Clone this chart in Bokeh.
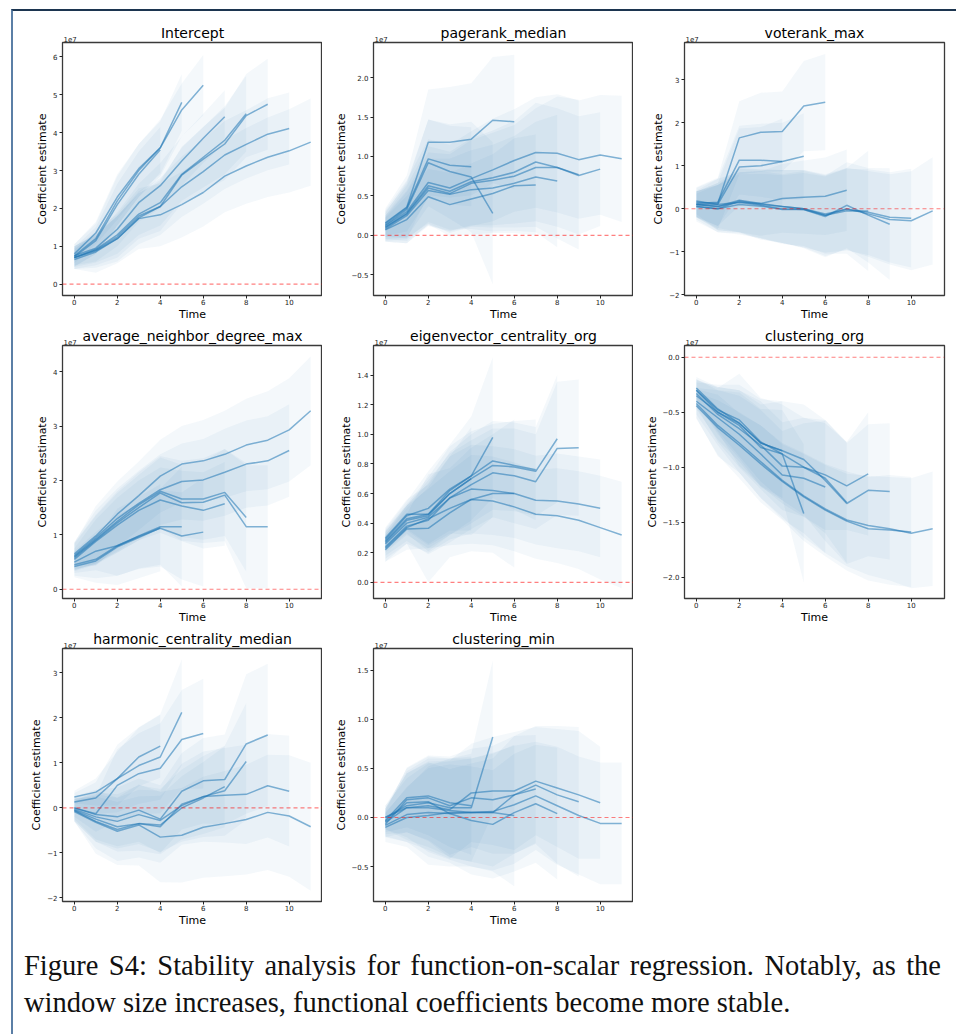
import numpy as np
from bokeh.plotting import figure
from bokeh.layouts import column, row
from bokeh.models import Span, Title, FixedTicker, Div, Range1d
from bokeh.embed import file_html
from bokeh.resources import INLINE

# values are in units of 1e7 (as shown by the axis offset text)
TITLES = ["Intercept", "pagerank_median", "voterank_max",
          "average_neighbor_degree_max", "eigenvector_centrality_org", "clustering_org",
          "harmonic_centrality_median", "clustering_min"]

X_TICKS = [0, 2, 4, 6, 8, 10]

# ---- Intercept
INTERCEPT_LINES = [
    [0.72, 1.15, 2.1, 2.9, 3.55],
    [0.8, 1.35, 2.3, 3.05, 3.6, 4.8],
    [0.75, 1.2, 2.2, 3.0, 3.6, 4.6, 5.25],
    [0.75, 0.95, 1.45, 2.15, 2.6, 3.25, 3.85, 4.42],
    [0.7, 0.92, 1.3, 1.85, 2.15, 2.9, 3.35, 3.8, 4.5],
    [0.7, 0.9, 1.25, 1.8, 2.05, 2.88, 3.3, 3.7, 4.45, 4.75],
    [0.7, 0.88, 1.2, 1.75, 2.05, 2.57, 2.97, 3.41, 3.69, 3.96, 4.11],
    [0.65, 0.85, 1.2, 1.73, 1.83, 2.1, 2.42, 2.85, 3.12, 3.35, 3.52, 3.75],
]
INTERCEPT_HALF = [
    [0.25, 0.35, 0.55, 0.6, 0.6],
    [0.25, 0.3, 0.6, 0.65, 0.7, 0.75],
    [0.3, 0.4, 0.65, 0.7, 0.75, 0.7, 0.8],
    [0.25, 0.35, 0.45, 0.5, 0.6, 0.65, 0.65, 0.7],
    [0.25, 0.35, 0.5, 0.55, 0.6, 0.7, 0.8, 0.9, 1.0],
    [0.3, 0.4, 0.55, 0.6, 0.65, 0.75, 0.85, 0.95, 1.1, 1.2],
    [0.3, 0.45, 0.6, 0.7, 0.75, 0.8, 0.85, 0.9, 0.9, 0.95, 0.95],
    [0.25, 0.55, 0.65, 0.8, 0.83, 0.87, 0.9, 0.95, 1.0, 1.05, 1.1, 1.15],
]
INTERCEPT_YTICKS = [0, 1, 2, 3, 4, 5, 6]
INTERCEPT_YLABELS = ["0", "1", "2", "3", "4", "5", "6"]
INTERCEPT_YRANGE = [-0.30, 6.38]

# ---- pagerank_median
PAGERANK_LINES = [
    [0.15, 0.35, 0.97, 0.89, 0.87],
    [0.13, 0.33, 0.92, 0.81, 0.74, 0.28],
    [0.16, 0.36, 1.18, 1.18, 1.22, 1.46, 1.44],
    [0.07, 0.2, 0.49, 0.39, 0.46, 0.53, 0.63, 0.64],
    [0.08, 0.25, 0.57, 0.52, 0.58, 0.6, 0.66, 0.74, 0.69],
    [0.1, 0.27, 0.6, 0.53, 0.66, 0.7, 0.75, 0.86, 0.86, 0.77],
    [0.1, 0.28, 0.63, 0.56, 0.68, 0.73, 0.8, 0.93, 0.86, 0.76, 0.84],
    [0.12, 0.3, 0.67, 0.6, 0.72, 0.83, 0.95, 1.05, 1.04, 0.96, 1.02, 0.97],
]
PAGERANK_HALF = [
    [0.15, 0.3, 0.5, 0.5, 0.5],
    [0.15, 0.35, 0.55, 0.6, 0.7, 0.9],
    [0.18, 0.4, 0.67, 0.7, 0.71, 0.8, 0.85],
    [0.15, 0.3, 0.35, 0.4, 0.45, 0.5, 0.6, 0.64],
    [0.15, 0.3, 0.4, 0.45, 0.5, 0.55, 0.6, 0.7, 0.84],
    [0.15, 0.3, 0.45, 0.5, 0.55, 0.6, 0.65, 0.75, 0.9, 0.95],
    [0.15, 0.35, 0.5, 0.5, 0.55, 0.6, 0.65, 0.75, 0.75, 0.75, 0.72],
    [0.2, 0.4, 0.55, 0.55, 0.6, 0.65, 0.65, 0.7, 0.75, 0.75, 0.76, 0.8],
]
PAGERANK_YTICKS = [-0.5, 0.0, 0.5, 1.0, 1.5, 2.0]
PAGERANK_YLABELS = ["\u22120.5", "0.0", "0.5", "1.0", "1.5", "2.0"]
PAGERANK_YRANGE = [-0.762, 2.445]

# ---- voterank_max
VOTERANK_LINES = [
    [0.1, 0.1, 0.97, 1.0, 1.1],
    [0.12, 0.15, 1.13, 1.13, 1.1, 1.22],
    [0.15, 0.12, 1.65, 1.78, 1.8, 2.39, 2.48],
    [0.1, 0.05, 0.15, 0.12, 0.24, 0.27, 0.29, 0.43],
    [0.05, 0.0, 0.1, 0.06, -0.02, -0.02, -0.15, -0.05, -0.05],
    [0.18, 0.1, 0.15, 0.08, 0.0, -0.02, -0.18, 0.08, -0.15, -0.36],
    [0.1, 0.05, 0.2, 0.12, 0.05, 0.0, -0.12, -0.02, -0.08, -0.2, -0.22],
    [0.05, 0.0, 0.18, 0.1, 0.05, 0.0, -0.15, 0.0, -0.12, -0.25, -0.28, -0.05],
]
VOTERANK_HALF = [
    [0.3, 0.5, 0.9, 0.9, 1.0],
    [0.3, 0.55, 0.8, 0.85, 0.9, 1.0],
    [0.35, 0.6, 0.85, 0.92, 0.93, 1.05, 1.12],
    [0.3, 0.5, 0.7, 0.75, 0.8, 0.85, 0.9, 0.95],
    [0.3, 0.55, 0.7, 0.75, 0.8, 0.85, 0.9, 1.0, 1.4],
    [0.3, 0.6, 0.7, 0.8, 0.8, 0.9, 0.95, 1.0, 1.1, 1.3],
    [0.3, 0.55, 0.75, 0.8, 0.85, 0.9, 0.9, 0.95, 1.0, 1.05, 1.15],
    [0.35, 0.55, 0.75, 0.8, 0.85, 0.9, 0.95, 0.95, 1.0, 1.05, 1.15, 1.25],
]
VOTERANK_YTICKS = [-2, -1, 0, 1, 2, 3]
VOTERANK_YLABELS = ["\u22122", "\u22121", "0", "1", "2", "3"]
VOTERANK_YRANGE = [-2.02, 3.87]

# ---- average_neighbor_degree_max
AVGNB_LINES = [
    [0.42, 0.52, 0.78, 0.95, 1.13],
    [0.5, 0.7, 0.8, 0.98, 1.15, 1.15],
    [0.45, 0.55, 0.8, 0.97, 1.12, 0.98, 1.05],
    [0.55, 0.88, 1.18, 1.45, 1.64, 1.53, 1.45, 1.57],
    [0.6, 0.92, 1.25, 1.55, 1.8, 1.66, 1.66, 1.78, 1.32],
    [0.58, 0.9, 1.22, 1.5, 1.77, 1.59, 1.6, 1.73, 1.15, 1.15],
    [0.62, 0.95, 1.3, 1.58, 1.83, 1.98, 2.01, 2.15, 2.3, 2.36, 2.55],
    [0.65, 0.98, 1.38, 1.72, 2.08, 2.3, 2.36, 2.48, 2.65, 2.74, 2.93, 3.28],
]
AVGNB_HALF = [
    [0.2, 0.4, 0.7, 0.75, 0.8],
    [0.2, 0.35, 0.55, 0.6, 0.7, 1.1],
    [0.2, 0.35, 0.55, 0.6, 0.7, 0.8, 1.0],
    [0.2, 0.4, 0.5, 0.55, 0.6, 0.65, 0.7, 0.77],
    [0.25, 0.45, 0.55, 0.6, 0.65, 0.7, 0.75, 0.8, 1.0],
    [0.25, 0.45, 0.55, 0.6, 0.65, 0.7, 0.75, 0.85, 1.13, 1.13],
    [0.25, 0.5, 0.55, 0.6, 0.65, 0.7, 0.75, 0.8, 0.8, 0.82, 0.85],
    [0.2, 0.55, 0.6, 0.63, 0.67, 0.7, 0.75, 0.8, 0.85, 0.9, 0.95, 1.0],
]
AVGNB_YTICKS = [0, 1, 2, 3, 4]
AVGNB_YLABELS = ["0", "1", "2", "3", "4"]
AVGNB_YRANGE = [-0.17, 4.48]

# ---- eigenvector_centrality_org
EIGEN_LINES = [
    [0.3, 0.46, 0.46, 0.6, 0.7],
    [0.29, 0.45, 0.5, 0.63, 0.72, 0.98],
    [0.22, 0.36, 0.365, 0.47, 0.56, 0.6, 0.6],
    [0.28, 0.43, 0.46, 0.62, 0.72, 0.82, 0.79, 0.76],
    [0.27, 0.42, 0.45, 0.6, 0.7, 0.79, 0.78, 0.75, 0.97],
    [0.26, 0.4, 0.44, 0.57, 0.66, 0.74, 0.72, 0.68, 0.905, 0.91],
    [0.24, 0.38, 0.42, 0.57, 0.63, 0.62, 0.6, 0.555, 0.55, 0.53, 0.5],
    [0.23, 0.37, 0.43, 0.5, 0.56, 0.55, 0.51, 0.46, 0.45, 0.42, 0.37, 0.32],
]
EIGEN_HALF = [
    [0.07, 0.1, 0.2, 0.25, 0.35],
    [0.07, 0.1, 0.25, 0.3, 0.4, 0.54],
    [0.08, 0.1, 0.365, 0.3, 0.35, 0.4, 0.5],
    [0.07, 0.1, 0.25, 0.3, 0.3, 0.25, 0.3, 0.34],
    [0.07, 0.1, 0.22, 0.28, 0.3, 0.3, 0.3, 0.3, 0.43],
    [0.08, 0.12, 0.25, 0.3, 0.3, 0.3, 0.32, 0.32, 0.45, 0.46],
    [0.08, 0.12, 0.22, 0.28, 0.3, 0.3, 0.3, 0.3, 0.32, 0.32, 0.33],
    [0.09, 0.15, 0.2, 0.25, 0.3, 0.3, 0.3, 0.3, 0.32, 0.33, 0.35, 0.36],
]
EIGEN_YTICKS = [0.0, 0.2, 0.4, 0.6, 0.8, 1.0, 1.2, 1.4]
EIGEN_YLABELS = ["0.0", "0.2", "0.4", "0.6", "0.8", "1.0", "1.2", "1.4"]
EIGEN_YRANGE = [-0.109, 1.6]

# ---- clustering_org
CLORG_LINES = [
    [-0.28, -0.47, -0.6, -0.78, -0.85],
    [-0.3, -0.5, -0.62, -0.82, -0.88, -1.42],
    [-0.4, -0.55, -0.7, -0.88, -1.07, -1.1, -1.18],
    [-0.33, -0.52, -0.65, -0.8, -0.99, -1.0, -1.1, -1.32],
    [-0.3, -0.48, -0.57, -0.77, -0.88, -1.0, -1.07, -1.17, -1.06],
    [-0.35, -0.5, -0.6, -0.78, -0.85, -0.93, -1.12, -1.33, -1.21, -1.22],
    [-0.44, -0.64, -0.8, -0.97, -1.13, -1.27, -1.39, -1.49, -1.56, -1.57, -1.59],
    [-0.42, -0.62, -0.78, -0.95, -1.12, -1.26, -1.38, -1.48, -1.53, -1.56, -1.6, -1.56],
]
CLORG_HALF = [
    [0.1, 0.2, 0.3, 0.35, 0.45],
    [0.1, 0.2, 0.3, 0.35, 0.4, 0.63],
    [0.12, 0.25, 0.35, 0.4, 0.4, 0.5, 0.6],
    [0.12, 0.25, 0.35, 0.4, 0.4, 0.45, 0.5, 0.55],
    [0.1, 0.2, 0.42, 0.4, 0.45, 0.45, 0.5, 0.4, 0.56],
    [0.12, 0.25, 0.35, 0.4, 0.45, 0.5, 0.55, 0.55, 0.6, 0.62],
    [0.12, 0.25, 0.3, 0.35, 0.35, 0.4, 0.42, 0.45, 0.47, 0.5, 0.5],
    [0.13, 0.28, 0.27, 0.33, 0.33, 0.38, 0.4, 0.42, 0.45, 0.47, 0.5, 0.52],
]
CLORG_YTICKS = [-2.0, -1.5, -1.0, -0.5, 0.0]
CLORG_YLABELS = ["\u22122.0", "\u22121.5", "\u22121.0", "\u22120.5", "0.0"]
CLORG_YRANGE = [-2.194, 0.107]

# ---- harmonic_centrality_median
HARM_LINES = [
    [0.24, 0.35, 0.65, 1.13, 1.37],
    [0.13, 0.22, 0.65, 0.94, 1.13, 2.12],
    [0.0, -0.13, 0.5, 0.76, 0.88, 1.52, 1.65],
    [-0.05, -0.25, -0.42, -0.35, -0.38, 0.0, 0.22, 0.47],
    [-0.03, -0.2, -0.3, -0.15, -0.28, 0.05, 0.25, 0.38, 1.03],
    [0.0, -0.15, -0.2, -0.05, -0.25, 0.37, 0.6, 0.63, 1.42, 1.62],
    [-0.06, -0.3, -0.48, -0.35, -0.42, 0.08, 0.25, 0.28, 0.3, 0.49, 0.37],
    [-0.08, -0.32, -0.52, -0.38, -0.65, -0.61, -0.43, -0.35, -0.26, -0.1, -0.18, -0.42],
]
HARM_HALF = [
    [0.14, 0.3, 0.6, 0.65, 0.7],
    [0.2, 0.35, 0.75, 0.85, 0.95, 1.18],
    [0.2, 0.4, 0.8, 0.9, 1.0, 1.1, 1.22],
    [0.25, 0.5, 0.55, 0.6, 0.65, 0.7, 0.8, 0.9],
    [0.25, 0.55, 0.6, 0.65, 0.7, 0.8, 0.9, 1.0, 1.3],
    [0.25, 0.55, 0.65, 0.7, 0.75, 0.85, 0.95, 1.0, 1.55, 1.58],
    [0.25, 0.6, 0.7, 0.75, 0.8, 0.9, 1.0, 1.05, 1.1, 1.15, 1.23],
    [0.22, 0.7, 0.75, 0.9, 1.0, 1.05, 1.12, 1.17, 1.22, 1.28, 1.35, 1.42],
]
HARM_YTICKS = [-2, -1, 0, 1, 2, 3]
HARM_YLABELS = ["\u22122", "\u22121", "0", "1", "2", "3"]
HARM_YRANGE = [-2.08, 3.54]

# ---- clustering_min
CLMIN_LINES = [
    [-0.03, 0.2, 0.22, 0.15, 0.12],
    [0.0, 0.12, 0.15, 0.1, 0.1, 0.82],
    [0.0, 0.1, 0.1, 0.07, 0.05, 0.05, 0.02],
    [-0.04, 0.15, 0.16, 0.04, 0.05, 0.05, 0.23, 0.29],
    [-0.08, 0.03, 0.05, 0.04, -0.03, -0.07, 0.05, 0.14, 0.04],
    [-0.07, 0.18, 0.2, 0.12, 0.2, 0.18, 0.23, 0.33, 0.23, 0.16],
    [-0.05, 0.1, 0.12, 0.08, 0.25, 0.27, 0.27, 0.37, 0.3, 0.23, 0.15],
    [-0.1, 0.0, 0.02, 0.05, 0.05, 0.06, 0.13, 0.22, 0.12, 0.02, -0.06, -0.06],
]
CLMIN_HALF = [
    [0.12, 0.3, 0.4, 0.45, 0.5],
    [0.12, 0.35, 0.45, 0.5, 0.55, 0.78],
    [0.12, 0.3, 0.45, 0.5, 0.55, 0.6, 0.72],
    [0.13, 0.3, 0.4, 0.45, 0.5, 0.55, 0.6, 0.55],
    [0.12, 0.28, 0.45, 0.5, 0.55, 0.55, 0.6, 0.6, 0.67],
    [0.13, 0.33, 0.43, 0.5, 0.5, 0.55, 0.6, 0.6, 0.7, 0.76],
    [0.14, 0.35, 0.45, 0.5, 0.5, 0.55, 0.6, 0.55, 0.6, 0.65, 0.57],
    [0.15, 0.3, 0.5, 0.55, 0.55, 0.6, 0.6, 0.55, 0.6, 0.6, 0.62, 0.62],
]
CLMIN_YTICKS = [-0.5, 0.0, 0.5, 1.0, 1.5]
CLMIN_YLABELS = ["\u22120.5", "0.0", "0.5", "1.0", "1.5"]
CLMIN_YRANGE = [-0.855, 1.72]

CAPTION_LINE1 = "Figure S4: Stability analysis for function-on-scalar regression. Notably, as the"
CAPTION_LINE2 = "window size increases, functional coefficients become more stable."

BLUE = "#1f77b4"
FONT = "DejaVu Sans"


def make_panel(title, lines, halfs, yrange, yticks, ylabels, left, right, top):
    p = figure(frame_width=260, frame_height=253, title=None,
               x_range=Range1d(-0.55, 11.55), y_range=Range1d(yrange[0], yrange[1]),
               output_backend="svg", toolbar_location=None,
               min_border_left=left, min_border_right=right,
               min_border_top=top, min_border_bottom=29,
               background_fill_color="white", border_fill_color="white")
    p.grid.visible = False
    p.outline_line_color = "#3a3a3a"
    p.outline_line_width = 1.3

    for ys, hs in zip(lines, halfs):
        y = np.array(ys)
        h = np.array(hs)
        x = np.arange(len(y))
        p.varea(x=x, y1=y - h, y2=y + h, fill_color=BLUE, fill_alpha=0.05)
    for ys in lines:
        x = np.arange(len(ys))
        p.line(x, ys, line_color=BLUE, line_alpha=0.55, line_width=1.5)

    p.add_layout(Span(location=0, dimension="width", line_color="red",
                      line_alpha=0.5, line_dash="4 3", line_width=1.2))

    # offset text "1e7" (closest to the frame), then the panel title on the same line
    p.add_layout(Title(text="1e7", align="left", text_font=FONT, text_font_size="7px",
                       text_font_style="normal", text_color="#222222",
                       standoff=1, offset=1), "above")
    p.add_layout(Title(text=title, align="center", text_font=FONT, text_font_size="14px",
                       text_font_style="normal", text_color="black",
                       standoff=-15, offset=0), "above")

    for ax in (p.xaxis[0], p.yaxis[0]):
        ax.axis_line_color = None
        ax.major_tick_line_color = "#222222"
        ax.major_tick_in = 0
        ax.major_tick_out = 3
        ax.minor_tick_line_color = None
        ax.major_label_text_font = FONT
        ax.major_label_text_font_size = "7px"
        ax.major_label_text_color = "#222222"
        ax.axis_label_text_font = FONT
        ax.axis_label_text_font_size = "11px"
        ax.axis_label_text_font_style = "normal"
        ax.axis_label_text_color = "black"

    p.xaxis[0].major_label_standoff = 0
    p.xaxis[0].axis_label_standoff = 0
    p.yaxis[0].major_label_standoff = 2
    p.yaxis[0].axis_label_standoff = 1

    p.xaxis[0].ticker = FixedTicker(ticks=X_TICKS)
    p.xaxis[0].axis_label = "Time"
    p.yaxis[0].ticker = FixedTicker(ticks=yticks)
    p.yaxis[0].major_label_overrides = {t: s for t, s in zip(yticks, ylabels)}
    p.yaxis[0].axis_label = "Coefficient estimate"
    return p


specs = [
    (INTERCEPT_LINES, INTERCEPT_HALF, INTERCEPT_YRANGE, INTERCEPT_YTICKS, INTERCEPT_YLABELS),
    (PAGERANK_LINES, PAGERANK_HALF, PAGERANK_YRANGE, PAGERANK_YTICKS, PAGERANK_YLABELS),
    (VOTERANK_LINES, VOTERANK_HALF, VOTERANK_YRANGE, VOTERANK_YTICKS, VOTERANK_YLABELS),
    (AVGNB_LINES, AVGNB_HALF, AVGNB_YRANGE, AVGNB_YTICKS, AVGNB_YLABELS),
    (EIGEN_LINES, EIGEN_HALF, EIGEN_YRANGE, EIGEN_YTICKS, EIGEN_YLABELS),
    (CLORG_LINES, CLORG_HALF, CLORG_YRANGE, CLORG_YTICKS, CLORG_YLABELS),
    (HARM_LINES, HARM_HALF, HARM_YRANGE, HARM_YTICKS, HARM_YLABELS),
    (CLMIN_LINES, CLMIN_HALF, CLMIN_YRANGE, CLMIN_YTICKS, CLMIN_YLABELS),
]

panels = []
for i, (title, sp) in enumerate(zip(TITLES, specs)):
    col = i % 3
    r = i // 3
    left = 62 if col == 0 else 51
    right = 10 if col == 2 else 0
    top = 42 if r == 0 else 21
    panels.append(make_panel(title, sp[0], sp[1], sp[2], sp[3], sp[4], left, right, top))

caption = Div(
    text=('<div style="font-family:\'Liberation Serif\',serif;font-size:28.5px;line-height:37px;'
          'color:#111;width:917px;padding-top:12px;">'
          '<div style="text-align:justify;text-align-last:justify;white-space:nowrap;">' + CAPTION_LINE1 + '</div>'
          '<div>' + CAPTION_LINE2 + '</div></div>'),
    width=930, height=95, styles={"margin-left": "24px"})

border = Div(text="", width=1, height=1,
             styles={"position": "fixed", "left": "6px", "top": "4px",
                     "width": "960px", "height": "1040px",
                     "border-left": "2px solid #5b7fa6", "border-top": "2px solid #1c3550",
                     "pointer-events": "none"})

layout = column(row(*panels[0:3]), row(*panels[3:6]), row(*panels[6:8]), caption, border)

open("out.html", "w").write(file_html(layout, INLINE))
